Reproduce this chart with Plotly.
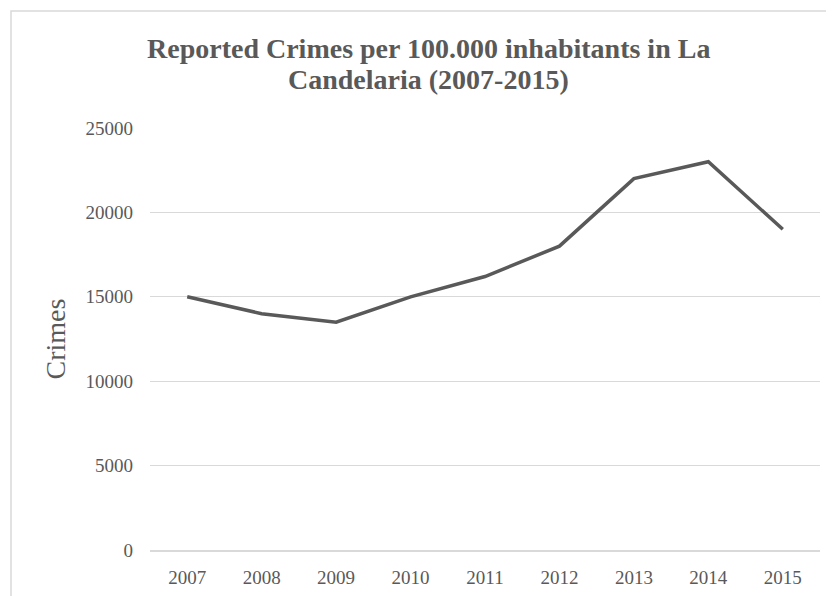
import plotly.graph_objects as go

years = ["2007", "2008", "2009", "2010", "2011", "2012", "2013", "2014", "2015"]
crimes = [15000, 14000, 13500, 15000, 16200, 18000, 22000, 23000, 19000]
y_ticks = [0, 5000, 10000, 15000, 20000, 25000]
title_lines = ["Reported Crimes per 100.000 inhabitants in La", "Candelaria (2007-2015)"]

# the page body adds an 8px margin, so the figure is sized/offset for it
W, H = 826, 588
L, R, T, B = 142, 14, 120, 46
pw, ph = W - L - R, H - T - B

fig = go.Figure()
fig.add_trace(go.Scatter(
    x=years, y=crimes, mode="lines",
    line=dict(color="#595959", width=3.5),
    hoverinfo="x+y", showlegend=False,
))

font_family = "Liberation Serif, Times New Roman, serif"

fig.update_layout(
    width=W, height=H,
    margin=dict(l=L, r=R, t=T, b=B, autoexpand=False),
    paper_bgcolor="white", plot_bgcolor="white",
    font=dict(family=font_family, color="#595959", size=19),
    xaxis=dict(
        type="category",
        range=[-0.5, len(years) - 0.5],
        showgrid=False,
        showline=True, linecolor="#d9d9d9", linewidth=1.5,
        ticks="", ticklabelstandoff=9,
        tickfont=dict(size=19, color="#595959"),
        zeroline=False, automargin=False,
    ),
    yaxis=dict(
        range=[0, 25000],
        tickvals=y_ticks,
        ticktext=[str(v) for v in y_ticks],
        showgrid=True, gridcolor="#d9d9d9", gridwidth=1,
        zeroline=False, showline=False,
        ticks="", ticklabelstandoff=16,
        tickfont=dict(size=19, color="#595959"),
        title=dict(text="Crimes", font=dict(size=28, color="#595959"), standoff=11),
        automargin=False,
    ),
)

# two-line title
title_centers_y = [40, 72]
for txt, yc in zip(title_lines, title_centers_y):
    fig.add_annotation(
        text="<b>" + txt + "</b>", showarrow=False,
        xref="paper", yref="paper",
        x=(420 - L) / pw, y=(H - B - yc) / ph,
        xanchor="center", yanchor="middle",
        font=dict(family=font_family, size=28, color="#595959"),
    )

# chart-area border (extends past the right and bottom edges)
fig.add_shape(
    type="rect", xref="paper", yref="paper",
    x0=(3 - L) / pw, x1=(W + 10 - L) / pw,
    y0=-(H + 10 - T - ph) / ph, y1=(H - 3 - B) / ph,
    line=dict(color="#d9d9d9", width=1.5), fillcolor="rgba(0,0,0,0)",
    layer="below",
)

fig.write_html("out.html")
